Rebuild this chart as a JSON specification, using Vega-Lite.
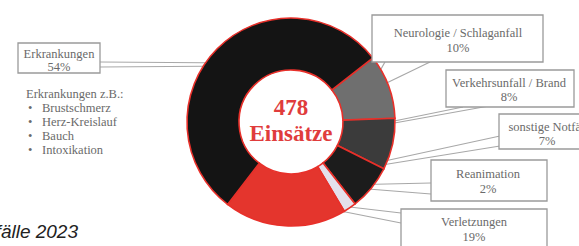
{
  "$schema": "https://vega.github.io/schema/vega-lite/v6.json",
  "width": 579,
  "height": 246,
  "autosize": {"type": "none"},
  "padding": 0,
  "background": "#ffffff",
  "config": {"view": {"stroke": null}},
  "datasets": {
    "segments": [
      {"kategorie": "Neurologie / Schlaganfall", "anteil": 10, "idx": 1},
      {"kategorie": "Verkehrsunfall / Brand", "anteil": 8, "idx": 2},
      {"kategorie": "sonstige Notfälle", "anteil": 7, "idx": 3},
      {"kategorie": "Reanimation", "anteil": 2, "idx": 4},
      {"kategorie": "Verletzungen", "anteil": 19, "idx": 5},
      {"kategorie": "Erkrankungen", "anteil": 54, "idx": 6}
    ],
    "center": [
      {"t": "478", "cx": 291, "cy": 108},
      {"t": "Einsätze", "cx": 291, "cy": 134}
    ],
    "boxes": [
      {"k": "Erkrankungen", "x1": 18, "x2": 100, "y1": 43, "y2": 73},
      {"k": "Neurologie", "x1": 372, "x2": 543, "y1": 15, "y2": 62},
      {"k": "Verkehr", "x1": 446, "x2": 574, "y1": 70, "y2": 107},
      {"k": "sonstige", "x1": 499, "x2": 600, "y1": 114, "y2": 149},
      {"k": "Reanimation", "x1": 431, "x2": 547, "y1": 160, "y2": 201},
      {"k": "Verletzungen", "x1": 401, "x2": 547, "y1": 209, "y2": 260}
    ],
    "labels": [
      {"t": "Erkrankungen", "lx": 59, "ly": 54},
      {"t": "54%", "lx": 59, "ly": 67},
      {"t": "Neurologie / Schlaganfall", "lx": 458, "ly": 33},
      {"t": "10%", "lx": 458, "ly": 48},
      {"t": "Verkehrsunfall / Brand", "lx": 509, "ly": 83},
      {"t": "8%", "lx": 509, "ly": 97},
      {"t": "sonstige Notfälle", "lx": 551, "ly": 127},
      {"t": "7%", "lx": 547, "ly": 141},
      {"t": "Reanimation", "lx": 488, "ly": 174},
      {"t": "2%", "lx": 488, "ly": 189},
      {"t": "Verletzungen", "lx": 474, "ly": 222},
      {"t": "19%", "lx": 474, "ly": 237}
    ],
    "leaders": [
      {"ax": 100, "ay": 62, "bx": 238, "by": 63},
      {"ax": 100, "ay": 67, "bx": 238, "by": 66},
      {"ax": 385, "ay": 62, "bx": 368, "by": 92},
      {"ax": 430, "ay": 62, "bx": 368, "by": 92},
      {"ax": 463, "ay": 107, "bx": 350, "by": 130},
      {"ax": 500, "ay": 104, "bx": 350, "by": 131},
      {"ax": 500, "ay": 136, "bx": 357, "by": 167},
      {"ax": 500, "ay": 146, "bx": 357, "by": 169},
      {"ax": 431, "ay": 183, "bx": 343, "by": 185},
      {"ax": 431, "ay": 194, "bx": 343, "by": 187},
      {"ax": 401, "ay": 213, "bx": 290, "by": 200},
      {"ax": 401, "ay": 223, "bx": 290, "by": 201}
    ],
    "bullets": [
      {"t": "Erkrankungen z.B.:", "bx": 26, "by": 94, "dot": ""},
      {"t": "Brustschmerz", "bx": 42, "by": 108, "dot": "•"},
      {"t": "Herz-Kreislauf", "bx": 42, "by": 122, "dot": "•"},
      {"t": "Bauch", "bx": 42, "by": 136, "dot": "•"},
      {"t": "Intoxikation", "bx": 42, "by": 150, "dot": "•"}
    ],
    "title": [
      {"t": "Notfälle 2023", "tx": 78, "ty": 238}
    ]
  },
  "layer": [
    {
      "data": {"name": "leaders"},
      "mark": {"type": "rule", "color": "#a8a8a8", "strokeWidth": 1.2},
      "encoding": {
        "x": {"field": "ax", "type": "quantitative", "scale": {"domain": [0, 579], "nice": false, "zero": false}, "axis": null},
        "y": {"field": "ay", "type": "quantitative", "scale": {"domain": [0, 246], "nice": false, "zero": false, "reverse": true}, "axis": null},
        "x2": {"field": "bx"},
        "y2": {"field": "by"}
      }
    },
    {
      "data": {"name": "segments"},
      "mark": {"type": "arc", "radius": 104, "radius2": 52, "stroke": "#e8302a", "strokeWidth": 1.6},
      "encoding": {
        "x": {"datum": 291, "type": "quantitative"},
        "y": {"datum": 122, "type": "quantitative"},
        "theta": {"field": "anteil", "type": "quantitative", "stack": true, "scale": {"range": [0.907, 7.190]}},
        "order": {"field": "idx", "type": "quantitative"},
        "color": {
          "field": "kategorie", "type": "nominal", "legend": null,
          "scale": {
            "domain": ["Neurologie / Schlaganfall", "Verkehrsunfall / Brand", "sonstige Notfälle", "Reanimation", "Verletzungen", "Erkrankungen"],
            "range": ["#6f6f6f", "#3b3b3b", "#1c1c1c", "#e4e0ec", "#e4352d", "#141414"]
          }
        }
      }
    },
    {
      "data": {"name": "center"},
      "mark": {"type": "text", "font": "Liberation Serif", "fontWeight": "bold", "fontSize": 23, "color": "#e03c3c", "baseline": "middle", "align": "center"},
      "encoding": {
        "x": {"field": "cx", "type": "quantitative"},
        "y": {"field": "cy", "type": "quantitative"},
        "text": {"field": "t"}
      }
    },
    {
      "data": {"name": "boxes"},
      "mark": {"type": "rect", "fill": "#ffffff", "stroke": "#9a9a9a", "strokeWidth": 1.3},
      "encoding": {
        "x": {"field": "x1", "type": "quantitative"},
        "x2": {"field": "x2"},
        "y": {"field": "y1", "type": "quantitative"},
        "y2": {"field": "y2"}
      }
    },
    {
      "data": {"name": "labels"},
      "mark": {"type": "text", "font": "Liberation Serif", "fontSize": 12.5, "color": "#6a6a6a", "baseline": "middle", "align": "center"},
      "encoding": {
        "x": {"field": "lx", "type": "quantitative"},
        "y": {"field": "ly", "type": "quantitative"},
        "text": {"field": "t"}
      }
    },
    {
      "data": {"name": "bullets"},
      "mark": {"type": "text", "font": "Liberation Serif", "fontSize": 12.5, "color": "#6a6a6a", "baseline": "middle", "align": "left"},
      "encoding": {
        "x": {"field": "bx", "type": "quantitative"},
        "y": {"field": "by", "type": "quantitative"},
        "text": {"field": "t"}
      }
    },
    {
      "data": {"name": "bullets"},
      "mark": {"type": "text", "font": "Liberation Serif", "fontSize": 12.5, "color": "#6a6a6a", "baseline": "middle", "align": "left", "dx": -14},
      "encoding": {
        "x": {"field": "bx", "type": "quantitative"},
        "y": {"field": "by", "type": "quantitative"},
        "text": {"field": "dot"}
      }
    },
    {
      "data": {"name": "title"},
      "mark": {"type": "text", "font": "Liberation Sans", "fontStyle": "italic", "fontSize": 19, "color": "#222222", "baseline": "alphabetic", "align": "right"},
      "encoding": {
        "x": {"field": "tx", "type": "quantitative"},
        "y": {"field": "ty", "type": "quantitative"},
        "text": {"field": "t"}
      }
    }
  ]
}
